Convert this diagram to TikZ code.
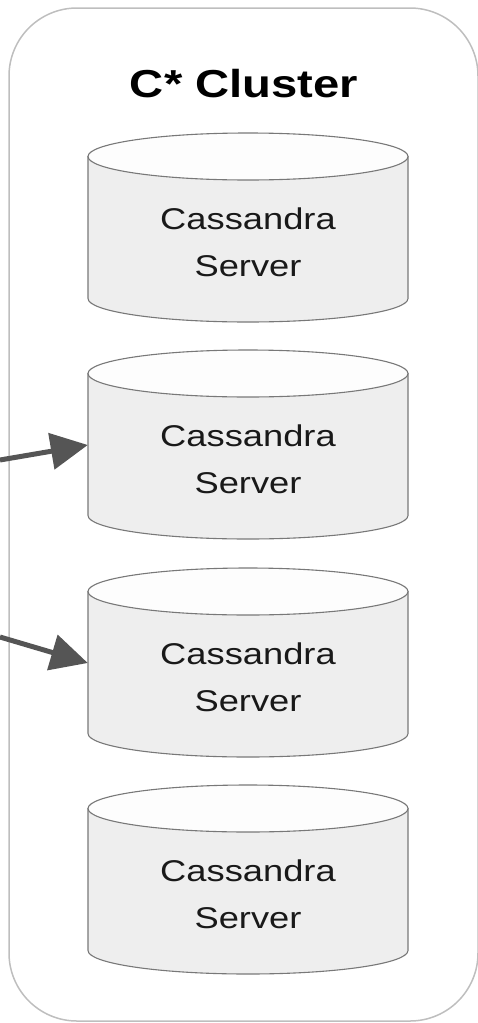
\documentclass[tikz,border=0pt]{standalone}
\usepackage{fontspec}
\setmainfont{Liberation Sans}
\newfontfamily\widesans[FakeStretch=1.21]{Liberation Sans}
\usepackage{xcolor}
\definecolor{serverfill}{RGB}{238, 238, 238}
\definecolor{servertop}{RGB}{253, 253, 253}
\definecolor{serverborder}{RGB}{120, 120, 120}
\definecolor{clusterborder}{RGB}{190, 190, 190}
\definecolor{arrowgrey}{RGB}{85, 85, 85}
\definecolor{textdark}{RGB}{25, 25, 25}
\usepackage{tikz}
\usetikzlibrary{arrows.meta, calc}

\begin{document}
\begin{tikzpicture}[x=1pt, y=1pt, >={Triangle[length=37pt, width=36pt]},
    srvtext/.style={align=center, minimum width=320pt, minimum height=150pt, text=textdark,
        font=\widesans\fontsize{30}{47}\selectfont},
    srvbody/.style={fill=serverfill, draw=serverborder, line width=1.1pt},
    srvtop/.style={fill=servertop, draw=serverborder, line width=1.1pt},
    feed/.style={->, line width=5pt, arrowgrey}]
    \useasboundingbox (0,0) rectangle (477,-1023);
    \draw[clusterborder, line width=1.5pt, rounded corners=68pt] (9,-8) rectangle (478,-1021);
    \node[font=\widesans\bfseries\fontsize{39}{47}\selectfont, text=black] (title) at (244,-84) {C* Cluster};

    \foreach \n/\ty in {1/133, 2/350, 3/568, 4/785} {
        \path[srvbody] (88,-\ty-23.5) -- (88,-\ty-165.5)
            arc[start angle=180, end angle=360, x radius=160, y radius=23.5] -- (408,-\ty-23.5) -- cycle;
        \path[srvtop] (248,-\ty-23.5) ellipse[x radius=160, y radius=23.5];
        \node[srvtext] (srv\n) at (248,-\ty-109) {Cassandra\\Server};
    }

    \coordinate (in1) at (0,-460);
    \coordinate (in2) at (0,-637);
    \draw[feed] (in1) -- (srv2.175);
    \draw[feed] (in2) -- (srv3.175);
\end{tikzpicture}
\end{document}
